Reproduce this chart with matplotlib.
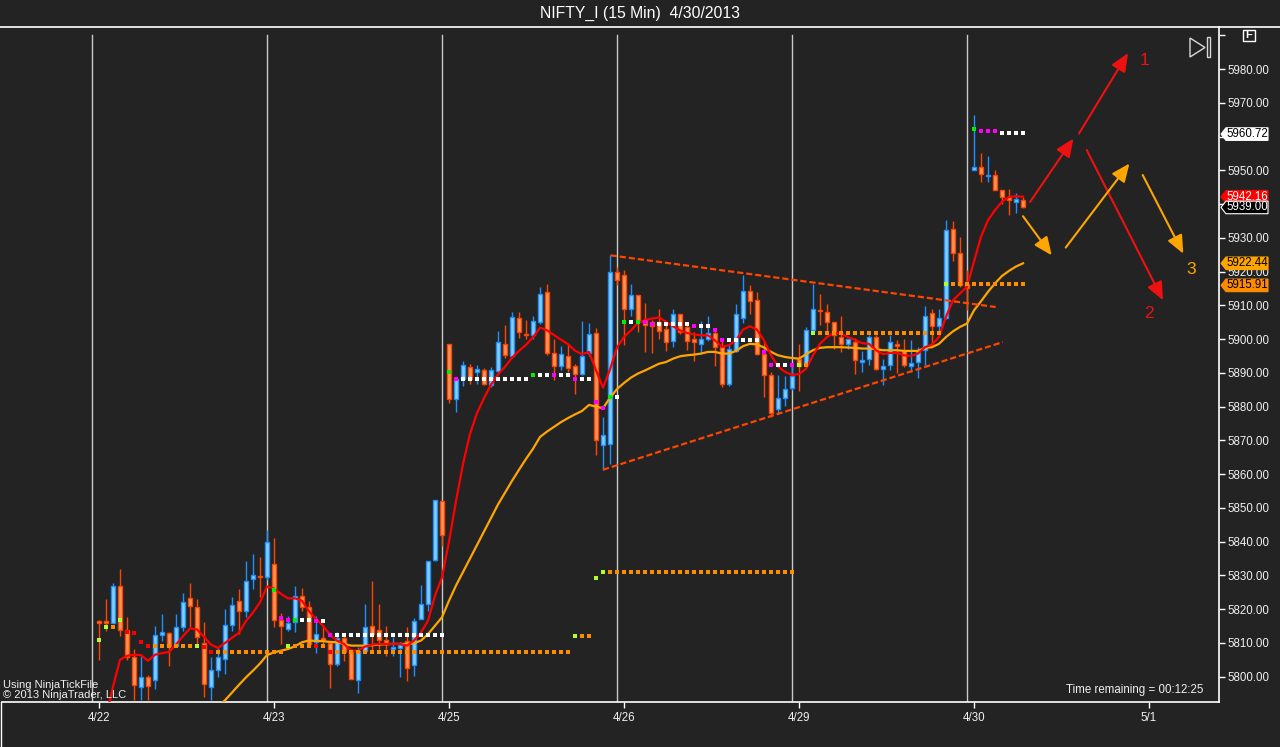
import matplotlib
matplotlib.use('Agg')
import matplotlib.pyplot as plt
import numpy as np
from matplotlib.patches import Rectangle, Polygon
from matplotlib.lines import Line2D
import matplotlib.transforms as mtransforms

plt.rcParams['font.family'] = ['Liberation Sans', 'DejaVu Sans']

# ---------------- data ----------------
title = 'NIFTY_I (15 Min)  4/30/2013'
day_labels = ['4/22', '4/23', '4/25', '4/26', '4/29', '4/30', '5/1']
day_label_bars = [0, 25, 50, 75, 100, 125, 150]
session_break_bars = [-1, 24, 49, 74, 99, 124]
price_ticks = [5800, 5810, 5820, 5830, 5840, 5850, 5860, 5870, 5880, 5890,
               5900, 5910, 5920, 5930, 5940, 5950, 5960, 5970, 5980]
# tick labels hidden behind the price tags on the right axis
covered_ticks = [5940, 5960]

opens = [5816.3, 5816.3, 5816.0, 5827.0, 5813.8, 5805.7, 5796.8, 5800.0, 5799.0, 5812.3,
         5812.9, 5809.2, 5814.6, 5823.3, 5820.5, 5809.9, 5797.0, 5802.0, 5805.2, 5815.3,
         5822.5, 5819.4, 5828.8, 5829.6, 5829.4, 5833.4, 5816.8, 5814.1, 5816.3, 5823.8,
         5820.5, 5810.2, 5811.4, 5810.0, 5803.7, 5811.6, 5807.7, 5799.0, 5807.7, 5814.9,
         5813.9, 5810.9, 5808.2, 5808.5, 5810.5, 5803.4, 5817.0, 5821.5, 5834.7, 5852.0,
         5898.6, 5882.3, 5888.3, 5891.7, 5890.2, 5890.9, 5886.3, 5890.4, 5898.6, 5895.0,
         5906.1, 5901.4, 5901.3, 5905.1, 5913.8, 5896.0, 5892.0, 5895.0, 5892.0, 5889.8,
         5896.0, 5901.9, 5868.5, 5869.0, 5919.9, 5919.1, 5909.0, 5913.2, 5905.6, 5905.0,
         5905.0, 5903.1, 5899.4, 5907.3, 5903.6, 5900.1, 5898.6, 5900.0, 5901.8, 5897.7,
         5886.8, 5896.4, 5906.1, 5914.2, 5911.7, 5895.7, 5889.3, 5879.4, 5882.6, 5885.6,
         5894.0, 5892.2, 5902.8, 5908.6, 5908.0, 5905.1, 5900.6, 5898.6, 5899.1, 5893.2,
         5894.2, 5900.6, 5891.0, 5892.2, 5898.6, 5896.5, 5892.0, 5893.2, 5896.9, 5907.7,
         5903.9, 5906.1, 5932.7, 5925.6, 5916.2, 5950.2, 5951.0, 5948.3, 5948.6, 5944.3,
         5942.1, 5940.6, 5941.3]
highs = [5816.8, 5823.0, 5827.7, 5831.9, 5817.6, 5808.2, 5806.2, 5800.5, 5815.1, 5818.6,
         5813.1, 5818.6, 5824.7, 5827.7, 5823.0, 5816.3, 5805.7, 5808.7, 5820.0, 5823.5,
         5826.0, 5834.4, 5836.4, 5835.4, 5843.3, 5841.1, 5819.0, 5818.1, 5827.0, 5826.2,
         5822.3, 5818.1, 5815.1, 5810.6, 5813.1, 5812.4, 5808.2, 5808.9, 5821.5, 5828.4,
         5821.5, 5815.1, 5811.9, 5810.2, 5814.6, 5817.3, 5827.3, 5834.2, 5852.4, 5852.0,
         5898.6, 5888.1, 5893.4, 5892.7, 5892.4, 5891.4, 5891.7, 5902.3, 5904.1, 5907.9,
         5907.9, 5905.6, 5906.8, 5915.3, 5916.2, 5899.9, 5897.9, 5898.6, 5892.7, 5905.3,
         5904.9, 5903.3, 5876.8, 5924.8, 5921.4, 5920.4, 5916.2, 5913.2, 5910.8, 5905.6,
         5909.0, 5904.6, 5908.8, 5907.3, 5905.1, 5902.1, 5905.3, 5906.8, 5903.1, 5899.6,
         5898.2, 5910.5, 5919.1, 5916.1, 5913.8, 5899.1, 5890.2, 5889.3, 5889.0, 5892.2,
         5898.6, 5903.6, 5916.2, 5913.3, 5910.5, 5905.1, 5906.7, 5900.1, 5900.4, 5896.6,
         5901.1, 5901.1, 5894.2, 5901.1, 5899.8, 5900.1, 5899.8, 5897.6, 5909.7, 5908.8,
         5909.0, 5935.2, 5934.9, 5930.3, 5920.4, 5966.3, 5955.2, 5954.2, 5950.0, 5944.3,
         5944.6, 5943.3, 5942.1]
lows = [5804.9, 5813.6, 5816.0, 5812.1, 5805.0, 5793.0, 5793.0, 5793.0, 5796.3, 5810.7,
        5803.2, 5808.7, 5813.6, 5814.6, 5809.0, 5794.0, 5793.0, 5799.8, 5800.8, 5813.6,
        5812.6, 5817.6, 5826.0, 5823.7, 5828.6, 5814.8, 5809.7, 5813.6, 5813.3, 5819.5,
        5809.7, 5806.9, 5809.7, 5796.6, 5803.2, 5804.7, 5799.3, 5795.3, 5807.7, 5807.7,
        5808.2, 5806.0, 5806.0, 5799.8, 5798.8, 5800.1, 5817.0, 5819.6, 5834.4, 5838.8,
        5881.0, 5878.4, 5886.1, 5886.8, 5886.8, 5886.3, 5885.8, 5889.7, 5894.5, 5894.5,
        5900.3, 5900.1, 5900.1, 5904.6, 5895.2, 5887.8, 5890.7, 5890.2, 5883.8, 5889.3,
        5895.0, 5865.6, 5861.1, 5862.9, 5916.0, 5898.1, 5906.8, 5902.1, 5896.2, 5896.0,
        5899.9, 5896.5, 5897.7, 5901.4, 5896.7, 5893.5, 5895.7, 5899.4, 5891.9, 5885.8,
        5886.0, 5896.2, 5904.8, 5907.3, 5895.2, 5882.8, 5876.9, 5877.9, 5880.1, 5884.8,
        5884.6, 5891.7, 5901.8, 5904.1, 5901.9, 5897.2, 5896.2, 5897.2, 5889.6, 5890.2,
        5892.4, 5890.7, 5886.3, 5890.7, 5890.0, 5891.7, 5890.2, 5888.6, 5892.2, 5897.6,
        5902.4, 5906.0, 5923.2, 5915.4, 5908.5, 5950.0, 5946.6, 5946.6, 5944.3, 5940.0,
        5936.7, 5937.2, 5938.8]
closes = [5816.0, 5816.0, 5827.0, 5813.8, 5805.7, 5797.5, 5800.0, 5797.1, 5812.3, 5813.1,
          5809.2, 5814.6, 5822.2, 5820.8, 5811.7, 5797.8, 5802.0, 5805.9, 5815.3, 5821.2,
          5819.4, 5828.2, 5830.2, 5829.4, 5840.0, 5816.8, 5814.9, 5815.8, 5823.8, 5820.5,
          5809.7, 5812.6, 5810.9, 5803.7, 5811.4, 5807.2, 5799.3, 5807.7, 5814.6, 5812.6,
          5810.9, 5809.7, 5808.7, 5809.5, 5802.7, 5816.4, 5821.5, 5834.2, 5852.4, 5842.0,
          5882.3, 5888.1, 5892.4, 5888.3, 5891.0, 5886.8, 5890.7, 5899.1, 5895.2, 5906.6,
          5902.1, 5901.2, 5905.3, 5913.3, 5896.0, 5892.0, 5895.7, 5891.5, 5889.8, 5895.0,
          5901.6, 5870.2, 5871.7, 5919.9, 5917.4, 5909.0, 5913.2, 5905.6, 5904.1, 5903.8,
          5902.4, 5899.1, 5907.3, 5902.1, 5899.4, 5899.1, 5900.1, 5901.9, 5897.7, 5886.8,
          5897.2, 5907.3, 5914.2, 5911.3, 5895.7, 5889.3, 5878.1, 5882.6, 5885.3, 5889.1,
          5892.0, 5902.8, 5909.0, 5908.2, 5905.1, 5901.1, 5898.6, 5900.1, 5893.9, 5893.9,
          5900.6, 5891.2, 5892.0, 5899.1, 5897.9, 5892.2, 5893.0, 5896.2, 5906.8, 5903.9,
          5906.1, 5932.4, 5925.6, 5915.9, 5915.2, 5950.9, 5948.9, 5948.5, 5944.3, 5942.1,
          5941.3, 5941.4, 5939.0]

nan = float('nan')
fast_ma = [nan, 5788.0, 5797.0, 5805.0, 5806.2, 5806.5, 5806.4, 5804.7, 5806.5, 5807.0,
           5807.3, 5809.5, 5812.0, 5814.3, 5814.0, 5811.8, 5809.5, 5808.5, 5810.0, 5811.5,
           5813.0, 5816.5, 5819.0, 5822.0, 5826.7, 5826.1, 5824.5, 5823.2, 5823.2, 5822.5,
           5819.4, 5817.1, 5815.1, 5812.4, 5810.7, 5809.7, 5807.7, 5807.7, 5808.9, 5809.5,
           5809.7, 5809.7, 5809.7, 5809.7, 5809.2, 5810.7, 5813.1, 5816.6, 5824.0, 5829.4,
           5840.0, 5852.0, 5863.0, 5871.9, 5878.1, 5882.5, 5886.5, 5889.5, 5891.8, 5894.5,
           5896.5, 5898.3, 5900.5, 5903.4, 5902.6, 5901.2, 5899.8, 5898.5, 5896.6, 5895.5,
           5896.2, 5890.8, 5885.6, 5891.0, 5897.5, 5900.6, 5902.6, 5904.8, 5905.6, 5906.1,
           5906.4, 5905.1, 5903.8, 5902.6, 5901.8, 5901.4, 5901.1, 5901.1, 5899.6, 5897.7,
           5898.2, 5899.6, 5902.8, 5903.8, 5902.8, 5899.6, 5895.2, 5891.9, 5890.3, 5889.4,
           5889.6, 5891.2, 5895.2, 5898.6, 5900.6, 5901.8, 5901.6, 5900.6, 5899.8, 5898.8,
           5898.6, 5896.7, 5895.5, 5895.9, 5895.9, 5895.2, 5895.0, 5895.7, 5897.6, 5898.4,
           5900.6, 5906.6, 5911.5, 5913.5, 5915.5, 5923.0, 5930.3, 5935.2, 5938.2, 5940.7,
           5942.1, 5942.3, 5942.16]
slow_ma = [nan, nan, nan, nan, nan, nan, nan, nan, nan, nan,
           nan, nan, nan, nan, nan, nan, 5789.5, 5791.3, 5793.0, 5795.3,
           5797.6, 5799.8, 5801.8, 5803.9, 5806.4, 5807.2, 5807.7, 5808.2, 5809.0, 5810.2,
           5810.7, 5810.6, 5810.5, 5810.3, 5810.2, 5809.7, 5809.2, 5809.2, 5809.2, 5809.3,
           5809.5, 5809.6, 5809.7, 5809.7, 5809.7, 5809.9, 5810.7, 5812.6, 5815.1, 5817.6,
           5822.5, 5827.0, 5831.0, 5835.0, 5839.0, 5843.0, 5847.0, 5851.0, 5854.5, 5858.0,
           5861.3, 5864.5, 5867.5, 5871.0, 5872.6, 5874.0, 5875.4, 5876.6, 5877.7, 5878.7,
           5880.5, 5880.0, 5879.5, 5882.6, 5885.2, 5887.0, 5888.6, 5889.8, 5890.7, 5891.7,
           5892.7, 5893.2, 5894.2, 5894.9, 5895.2, 5895.4, 5895.7, 5896.2, 5896.2, 5895.7,
           5895.7, 5896.5, 5897.9, 5898.6, 5898.4, 5897.5, 5896.2, 5895.2, 5894.7, 5894.4,
           5894.2, 5895.5, 5896.7, 5897.4, 5897.6, 5897.6, 5897.6, 5897.5, 5897.4, 5897.2,
           5897.2, 5897.0, 5896.7, 5896.7, 5896.7, 5896.5, 5896.5, 5896.5, 5897.4, 5897.6,
           5898.6, 5900.6, 5902.3, 5903.6, 5904.6, 5908.5, 5911.2, 5914.0, 5916.5, 5918.7,
           5920.2, 5921.5, 5922.44]

# stepped dot levels: (first bar, last bar, price, colour code)
support_runs = [(0, 0, 5811.0, 'L'), (1, 1, 5814.8, 'L'), (2, 2, 5814.8, 'O'),
                (3, 3, 5816.9, 'L'), (4, 4, 5813.1, 'R'), (5, 5, 5812.8, 'R'),
                (6, 6, 5810.2, 'R'), (7, 7, 5809.2, 'R'), (8, 13, 5809.2, 'O'),
                (14, 14, 5809.2, 'L'), (15, 15, 5808.9, 'R'), (16, 16, 5807.2, 'R'),
                (17, 26, 5807.2, 'O'), (27, 27, 5809.0, 'L'), (28, 30, 5809.0, 'O'),
                (31, 31, 5809.0, 'R'), (32, 32, 5809.0, 'O'), (33, 33, 5807.4, 'R'),
                (34, 67, 5807.4, 'O'), (68, 68, 5812.1, 'L'), (69, 70, 5812.1, 'O'),
                (71, 71, 5829.3, 'L'), (72, 72, 5831.1, 'L'), (73, 99, 5831.1, 'O'),
                (100, 100, 5892.2, 'L'), (101, 101, 5892.2, 'O'),
                (102, 102, 5901.8, 'L'), (103, 120, 5901.8, 'O'),
                (121, 121, 5916.2, 'L'), (122, 132, 5916.2, 'O')]
resistance_runs = [(25, 25, 5825.8, 'G'), (26, 26, 5817.3, 'M'), (27, 27, 5816.9, 'M'),
                   (28, 28, 5816.9, 'G'), (29, 30, 5816.9, 'W'), (31, 31, 5816.6, 'M'),
                   (32, 32, 5816.6, 'W'), (33, 33, 5812.4, 'M'), (34, 49, 5812.4, 'W'),
                   (50, 50, 5890.2, 'G'), (51, 51, 5888.1, 'M'), (52, 61, 5888.1, 'W'),
                   (62, 62, 5889.3, 'G'), (63, 64, 5889.3, 'W'), (65, 65, 5889.3, 'M'),
                   (66, 67, 5889.3, 'W'), (68, 68, 5888.1, 'M'), (69, 70, 5888.1, 'W'),
                   (71, 71, 5881.4, 'M'), (72, 72, 5879.6, 'M'), (73, 73, 5882.7, 'G'),
                   (74, 74, 5882.7, 'W'), (75, 75, 5905.1, 'G'), (76, 76, 5905.1, 'W'),
                   (77, 77, 5905.1, 'G'), (78, 78, 5905.1, 'M'), (79, 79, 5904.4, 'M'),
                   (80, 84, 5904.4, 'W'), (85, 85, 5903.8, 'M'), (86, 87, 5903.8, 'W'),
                   (88, 88, 5902.6, 'M'), (89, 89, 5899.6, 'M'), (90, 94, 5899.6, 'W'),
                   (95, 95, 5896.2, 'M'), (96, 96, 5892.2, 'M'), (97, 98, 5892.2, 'W'),
                   (99, 99, 5892.2, 'M'), (125, 125, 5962.1, 'G'),
                   (126, 128, 5961.7, 'M'), (129, 132, 5960.9, 'W')]

# drawn objects (bar index, price)
trend_upper_x = [73.1, 128.1]
trend_upper_y = [5924.8, 5909.5]
trend_lower_x = [72.0, 129.1]
trend_lower_y = [5861.3, 5899.1]

arrows = [(133.0, 5940.6, 139.2, 5959.4, 'red'),
          (140.0, 5960.9, 147.0, 5984.7, 'red'),
          (141.1, 5956.0, 152.0, 5911.5, 'red'),
          (132.0, 5936.4, 136.1, 5924.8, 'orange'),
          (138.1, 5927.1, 147.2, 5952.0, 'orange'),
          (149.1, 5948.6, 154.9, 5925.3, 'orange')]
arrow_labels = [(149.3, 5982.6, '1', 'red'), (150.0, 5907.6, '2', 'red'),
                (156.0, 5920.6, '3', 'orange')]

price_tags = [(5960.72, '5960.72', '#ffffff', '#000000', '#ffffff'),
              (5942.16, '5942.16', '#ff0000', '#ffffff', '#ff0000'),
              (5939.00, '5939.00', '#000000', '#ffffff', '#ffffff'),
              (5922.44, '5922.44', '#ffa500', '#000000', '#ffa500'),
              (5915.91, '5915.91', '#ff8c00', '#000000', '#ff8c00')]

# ---------------- styling ----------------
BG = '#232323'
W, H = 1280, 747
dot_colors = {'W': '#ffffff', 'O': '#ff8c00', 'L': '#adff2f', 'G': '#00ee00',
              'M': '#ff00ff', 'R': '#ff0000'}
arrow_colors = {'red': '#ee1111', 'orange': '#ffa500'}
UP_EDGE, UP_FILL = '#1e90ff', '#87cefa'
DN_EDGE, DN_FILL = '#ff4500', '#f9965a'
TXT = '#f0f0f0'

fig = plt.figure(figsize=(12.8, 7.47), dpi=100, facecolor=BG)
ax = fig.add_axes([2 / W, 1 - 702 / H, 1217 / W, 675 / H], facecolor=BG)

px_per_bar = 7.0
px_per_pt = 3.376
ax.set_xlim((2 - 99) / px_per_bar, (1219 - 99) / px_per_bar)
ax.set_ylim(5980 - (702 - 69) / px_per_pt, 5980 + (69 - 27) / px_per_pt)

# session breaks
for b in session_break_bars:
    ax.axvline(b, ymin=0, ymax=1 - 8 / 675, color='#c8c8c8', lw=1.0, zorder=1)

# candles
n = len(opens)
for i in range(n):
    o, hi, lo, c = opens[i], highs[i], lows[i], closes[i]
    up = c >= o
    ec = UP_EDGE if up else DN_EDGE
    fc = UP_FILL if up else DN_FILL
    ax.vlines(i, lo, hi, color=ec, lw=1.0, zorder=2)
    bottom = min(o, c)
    height = max(abs(c - o), 0.35)
    ax.add_patch(Rectangle((i - 0.32, bottom), 0.64, height, facecolor=fc,
                           edgecolor=ec, lw=1.0, zorder=3))

idx = np.arange(n)
ax.plot(idx, np.array(slow_ma, dtype=float), color='#ffa500', lw=1.6, zorder=4,
        solid_joinstyle='round')
ax.plot(idx, np.array(fast_ma, dtype=float), color='#ff0000', lw=1.6, zorder=4,
        solid_joinstyle='round')

# dots
for runs in (support_runs, resistance_runs):
    for s, e, p, cc in runs:
        xs = list(range(s, e + 1))
        ax.plot(xs, [p] * len(xs), linestyle='none', marker='s', markersize=3.1,
                markeredgewidth=0, color=dot_colors[cc], zorder=5)

# trend lines
for tx, ty in ((trend_upper_x, trend_upper_y), (trend_lower_x, trend_lower_y)):
    ax.plot(tx, ty, color='#ff4500', lw=1.6, dashes=(2.8, 1.3), zorder=4)

# arrows
for x0, y0, x1, y1, cname in arrows:
    ax.annotate('', xy=(x1, y1), xytext=(x0, y0), annotation_clip=False,
                arrowprops=dict(arrowstyle='-|>,head_length=0.55,head_width=0.24',
                                color=arrow_colors[cname], lw=1.5,
                                shrinkA=0, shrinkB=0, mutation_scale=20),
                zorder=6)
for x, y, t, cname in arrow_labels:
    ax.text(x, y, t, color=arrow_colors[cname], fontsize=12.5, ha='center',
            va='center', zorder=6)

# axes styling
for side in ('left', 'top'):
    ax.spines[side].set_visible(False)
for side in ('right', 'bottom'):
    ax.spines[side].set_color('white')
    ax.spines[side].set_linewidth(1.2)
ax.yaxis.tick_right()
ax.set_yticks(price_ticks + [5990])
ax.set_yticklabels([('' if v in covered_ticks else '%.2f' % v) for v in price_ticks] + [''])
ax.tick_params(axis='y', colors='white', labelcolor=TXT, direction='out',
               length=4, width=1, pad=2, labelsize=8.3)
ax.set_xticks(day_label_bars)
ax.set_xticklabels(day_labels)
ax.tick_params(axis='x', colors='white', labelcolor=TXT, direction='out',
               length=4, width=1, pad=3, labelsize=8.3)

# right-axis price tags
trans = mtransforms.blended_transform_factory(ax.transAxes, ax.transData)
apx = 1 / 1217.0
hh = 6.3 / px_per_pt
for price, txt, bg, fg, ec in price_tags:
    verts = [(1 + 2 * apx, price), (1 + 7 * apx, price + hh), (1 + 49 * apx, price + hh),
             (1 + 49 * apx, price - hh), (1 + 7 * apx, price - hh)]
    ax.add_patch(Polygon(verts, closed=True, transform=trans, facecolor=bg,
                         edgecolor=ec, lw=0.8, clip_on=False, zorder=10))
    ax.text(1 + 28.5 * apx, price, txt, transform=trans, ha='center', va='center',
            color=fg, fontsize=8.3, zorder=11, clip_on=False)

# figure-level decorations
def fx(x):
    return x / W

def fy(y):
    return 1 - y / H

fig.add_artist(Line2D([0, 1], [fy(27), fy(27)], color='white', lw=1.2))
fig.add_artist(Line2D([fx(1), fx(1)], [fy(747), fy(702)], color='white', lw=1.0))
fig.text(0.5, fy(13), title, ha='center', va='center', color='white', fontsize=11.3)

fig.text(fx(3), fy(685), 'Using NinjaTickFile', ha='left', va='center', color=TXT,
         fontsize=8)
fig.text(fx(3), fy(694.5), '\u00a9 2013 NinjaTrader, LLC', ha='left', va='center',
         color=TXT, fontsize=8)
fig.text(fx(1203), fy(690), 'Time remaining = 00:12:25', ha='right', va='center',
         color=TXT, fontsize=8.3)

# "F" box and play/stop icon
fig.add_artist(Rectangle((fx(1242.5), fy(41)), 12 / W, 11.5 / H, transform=fig.transFigure,
                         facecolor='none', edgecolor='white', lw=1.0))
fig.text(fx(1248.5), fy(35.2), 'F', ha='center', va='center', color='white',
         fontsize=8, fontweight='bold')
fig.add_artist(Polygon([(fx(1190), fy(38)), (fx(1205), fy(47.5)), (fx(1190), fy(57))],
                       closed=True, transform=fig.transFigure, facecolor='none',
                       edgecolor='#d8d8d8', lw=1.0))
fig.add_artist(Rectangle((fx(1206.5), fy(57)), 3 / W, 20 / H, transform=fig.transFigure,
                         facecolor='none', edgecolor='#d8d8d8', lw=1.0))

fig.savefig('out.png', dpi=100, facecolor=BG)
